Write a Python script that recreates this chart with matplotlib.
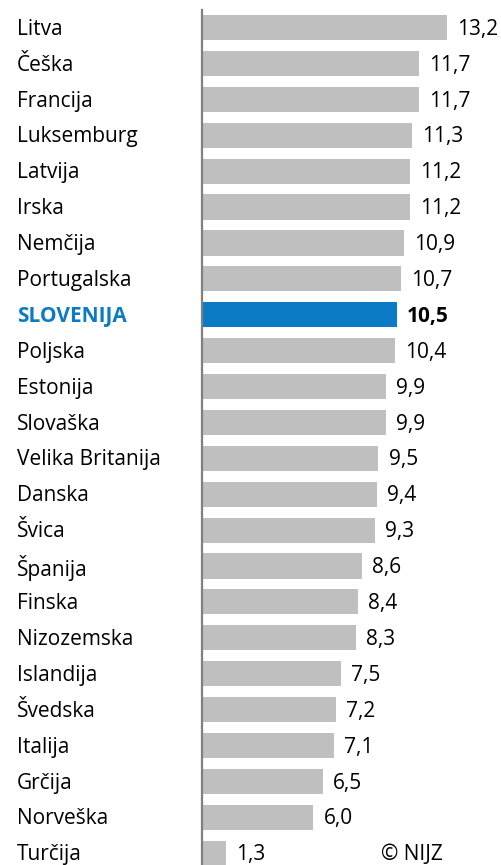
import matplotlib
matplotlib.use("Agg")
import matplotlib.pyplot as plt

countries = ["Litva", "Češka", "Francija", "Luksemburg", "Latvija", "Irska", "Nemčija",
             "Portugalska", "SLOVENIJA", "Poljska", "Estonija", "Slovaška", "Velika Britanija",
             "Danska", "Švica", "Španija", "Finska", "Nizozemska", "Islandija", "Švedska",
             "Italija", "Grčija", "Norveška", "Turčija"]
values = [13.2, 11.7, 11.7, 11.3, 11.2, 11.2, 10.9, 10.7, 10.5, 10.4, 9.9, 9.9, 9.5,
          9.4, 9.3, 8.6, 8.4, 8.3, 7.5, 7.2, 7.1, 6.5, 6.0, 1.3]
highlight = "SLOVENIJA"

plt.rcParams['font.family'] = ['Open Sans', 'DejaVu Sans']

W, H = 502, 865
fig = plt.figure(figsize=(W/100, H/100), dpi=100)
ax = fig.add_axes([202/W, 0, 1 - 202/W, 855/H])

grey = "#BFBFBF"
blue = "#0A7BC4"
ypos = list(range(len(countries)))
colors = [blue if c == highlight else grey for c in countries]
ax.barh(ypos, values, height=0.7, color=colors)

ax.set_xlim(0, 16.16)
ax.set_ylim(23.33, -0.49)
for s in ["top", "right", "bottom"]:
    ax.spines[s].set_visible(False)
ax.spines["left"].set_color("#808080")
ax.spines["left"].set_linewidth(1.6)
ax.set_xticks([])
ax.set_yticks([])

fs = 15
for i, (c, v) in enumerate(zip(countries, values)):
    hl = c == highlight
    ax.annotate(f"{v:.1f}".replace(".", ","), xy=(v + 0.55, i), xytext=(0, -1.2),
                textcoords="offset points", va="center", ha="left",
                fontsize=fs, color="black", fontweight="bold" if hl else "normal")
    ax.annotate(c, xy=(17/W, i), xycoords=("figure fraction", "data"),
                xytext=(0, -1.2), textcoords="offset points",
                va="center", ha="left", fontsize=fs,
                color=blue if hl else "black", fontweight="bold" if hl else "normal")

ax.text(443/W, 0, "© NIJZ", transform=fig.transFigure, fontsize=fs, ha="right",
        va="bottom")

fig.savefig("out.png", dpi=100)
